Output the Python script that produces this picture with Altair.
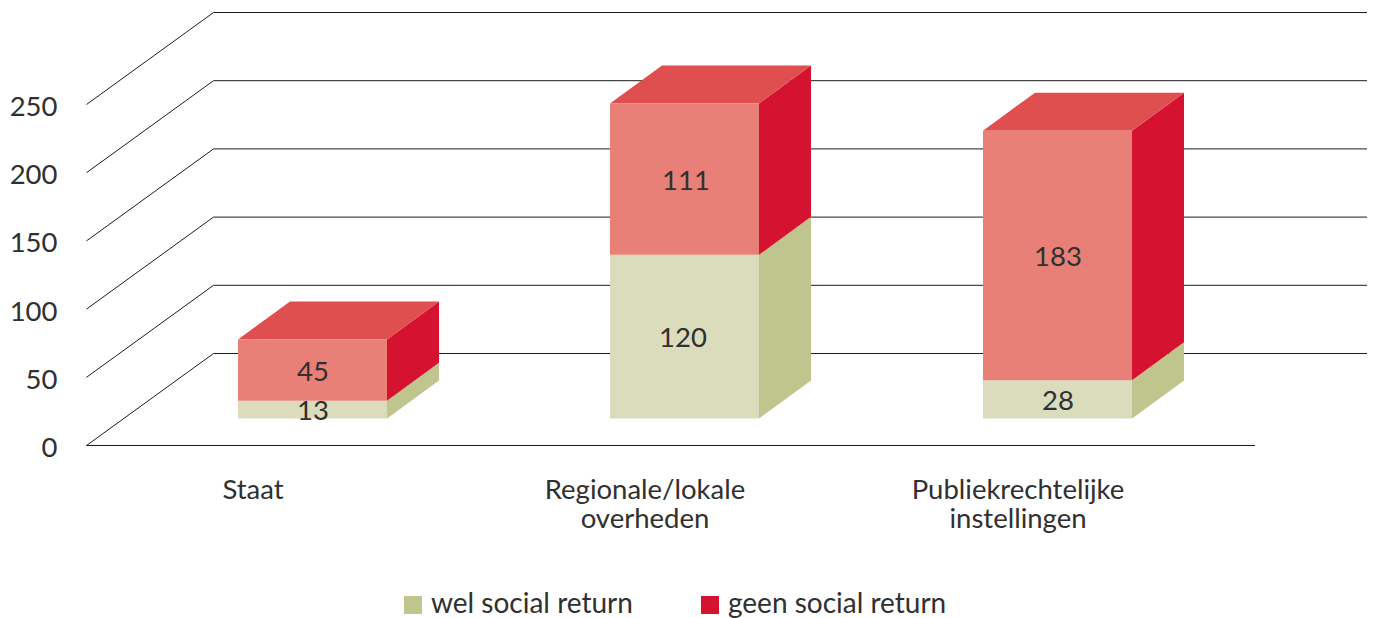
import altair as alt
import pandas as pd

categories = ["Staat", "Regionale/lokale\noverheden", "Publiekrechtelijke\ninstellingen"]
wel = [13, 120, 28]
geen = [45, 111, 183]
ticks = [0, 50, 100, 150, 200, 250]
series = ["wel social return", "geen social return"]

# layout
W, H = 1359, 610
PX = 1.364                 # pixels per unit of value
Y0 = 437.5                 # plot-pixel of value 0 on the front plane
FONT = "Lato"
INK = "#303030"
LINE = "#1c1c1c"
bar_left = [230, 602, 975]
bar_w = 149
base = 27 / PX             # bars stand this far in front-plane units above 0
dx, dy = 52, 38 / PX       # depth of a bar
wall_dx, wall_dy = 127, 92 / PX
left, right, floor_right = 78.5, 1359, 1247
label_x = [245, 637, 1010]
wel_x = [305, 675, 1050]
geen_x = [305, 678, 1050]
cat_y = -22.8
FS = 27.5

sx = alt.Scale(domain=[0, W], range=[0, W], nice=False, zero=False)
sy = alt.Scale(domain=[-(H - Y0) / PX, Y0 / PX], range=[H, 0], nice=False, zero=False)
X = lambda f="x": alt.X(f"{f}:Q", scale=sx, axis=None)
X2 = alt.X2("x2:Q")
Y = lambda f="y", **k: alt.Y(f"{f}:Q", scale=sy, stack=None, **k)
Y2 = alt.Y2("y2:Q")

# grid
rules = [{"x": left, "x2": floor_right, "y": 0, "y2": 0}]
for t in ticks:
    rules.append({"x": left, "x2": left + wall_dx, "y": t, "y2": t + wall_dy})
    rules.append({"x": left + wall_dx, "x2": right, "y": t + wall_dy, "y2": t + wall_dy})
grid = alt.Chart(pd.DataFrame(rules)).mark_rule(color=LINE, strokeWidth=1).encode(
    x=X(), x2=X2,
    y=Y(axis=alt.Axis(values=ticks, domain=False, ticks=False, grid=False, title=None,
                      orient="left", labelPadding=-49, labelFont=FONT, labelFontSize=FS,
                      labelColor=INK, labelBaseline="middle", labelOffset=3)),
    y2=Y2,
)

front, side, top, vals = [], [], [], []
for i in range(3):
    x0 = bar_left[i]
    x1 = x0 + bar_w
    bottom = base
    for name, v, vx in ((series[0], wel[i], wel_x[i]), (series[1], geen[i], geen_x[i])):
        t = bottom + v
        front.append({"x": x0, "x2": x1, "y": bottom, "y2": t, "s": name})
        for xx, off in ((x1, 0), (x1 + dx, dy)):
            side.append({"x": xx, "y": bottom + off, "y2": t + off, "s": name, "bar": i})
        vals.append({"x": vx, "y": (bottom + t) / 2 - 2.5 / PX, "v": str(v)})
        bottom = t
    top.append({"y": bottom, "x": x0, "x2": x1, "bar": i})
    top.append({"y": bottom + dy, "x": x0 + dx, "x2": x1 + dx, "bar": i})

front_df = pd.DataFrame(front)

side_layer = alt.Chart(pd.DataFrame(side)).mark_area(orient="vertical", opacity=1).encode(
    x=X(), y=Y(), y2=Y2,
    detail=["bar:N", "s:N"],
    fill=alt.Fill("s:N", scale=alt.Scale(domain=series, range=["#bfc58c", "#d5122f"]),
                  sort=series,
                  legend=alt.Legend(orient="none", legendX=391, legendY=583, direction="horizontal",
                                    columns=2, title=None, symbolType="square", symbolSize=324,
                                    symbolStrokeWidth=0, symbolOpacity=1, labelFont=FONT, labelFontSize=28,
                                    labelColor=INK, labelOffset=4, columnPadding=63,
                                    labelLimit=400, symbolOffset=0)),
)

top_layer = alt.Chart(pd.DataFrame(top)).mark_area(orient="horizontal", color="#df4f4f").encode(
    y=Y(), x=X(), x2=X2, detail="bar:N",
)

value_layer = alt.Chart(pd.DataFrame(vals)).mark_text(
    font=FONT, fontSize=FS, color=INK, baseline="middle", align="center"
).encode(x=X(), y=Y(), text="v:N")

cat_df = pd.DataFrame({"x": label_x, "y": [cat_y] * 3, "t": categories})
cat_layer = alt.Chart(cat_df).mark_text(
    font=FONT, fontSize=FS, color=INK, baseline="top", align="center",
    lineBreak="\n", lineHeight=29,
).encode(x=X(), y=Y(), text="t:N")

front_wel = alt.Chart(front_df[front_df.s == series[0]]).mark_rect(color="#dbdcbb").encode(x=X(), x2=X2, y=Y(), y2=Y2)
front_geen = alt.Chart(front_df[front_df.s == series[1]]).mark_rect(color="#e88077").encode(x=X(), x2=X2, y=Y(), y2=Y2)

chart = alt.layer(grid, side_layer, top_layer, front_wel, front_geen, value_layer, cat_layer).properties(
    width=W, height=H, padding=0, autosize=alt.AutoSizeParams(type="none"), background="white"
).configure_view(stroke=None)

chart.save("out.html", embed_options={"renderer": "svg", "actions": False})
